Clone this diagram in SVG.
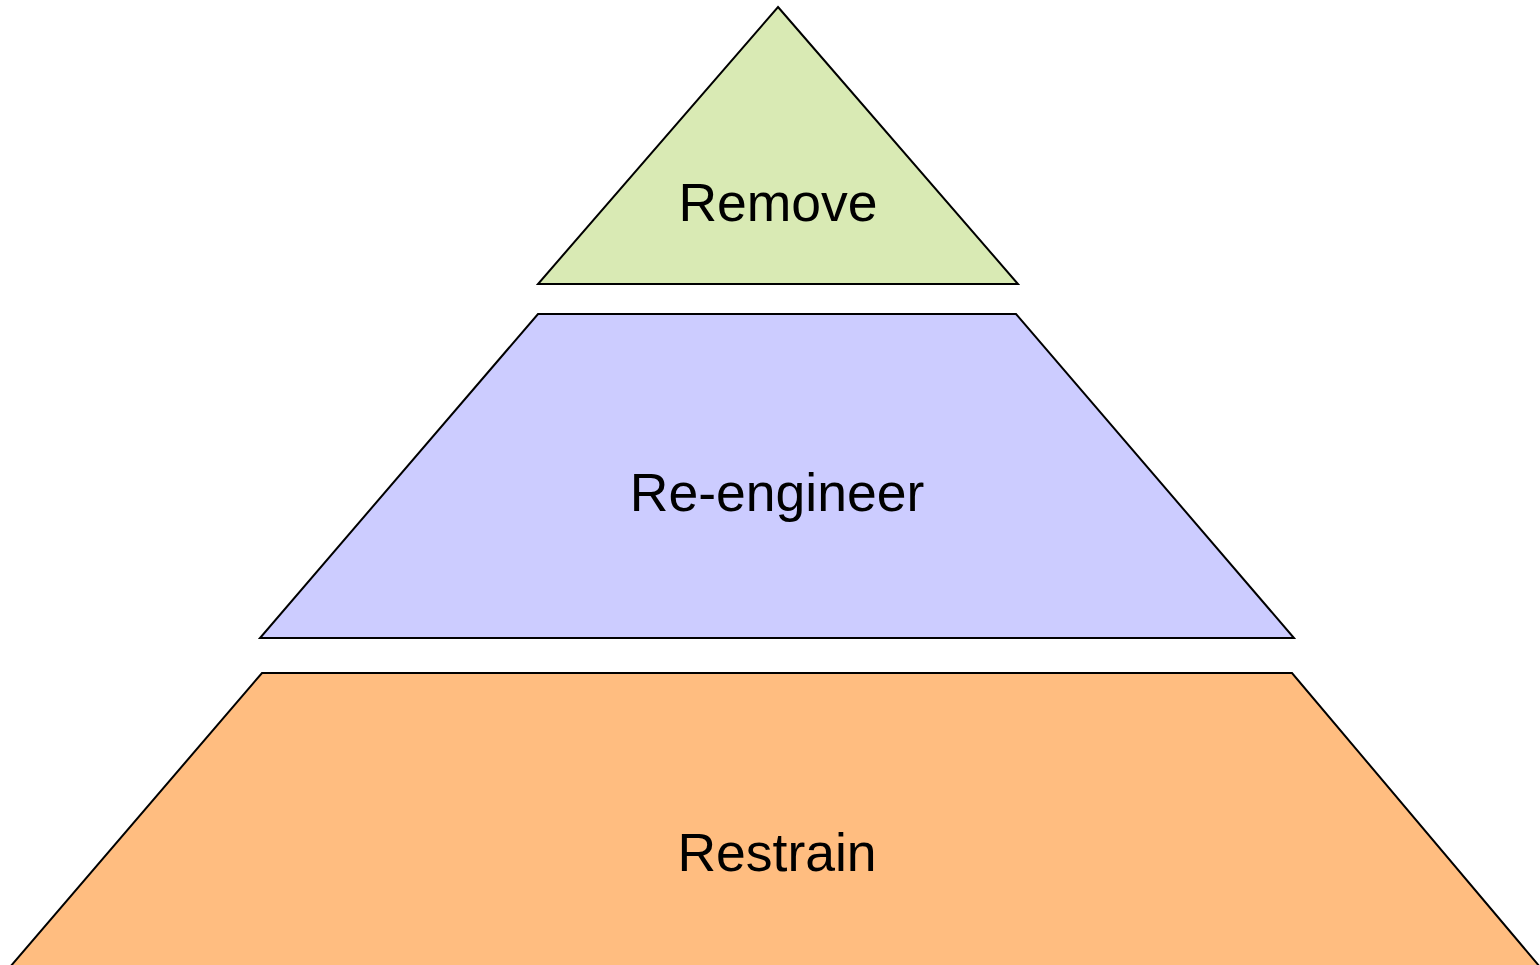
<svg xmlns="http://www.w3.org/2000/svg" width="1540" height="965" viewBox="0 0 1540 965">
<style>
.s{stroke:#000;stroke-width:2;stroke-linejoin:miter}
.t{font-family:"Liberation Sans",Arial,sans-serif;font-size:53.5px;fill:#000;text-anchor:middle}
</style>
<rect width="1540" height="965" fill="#fff"/>
<g id="remove">
<polygon class="s" fill="#d9eab4" points="778,7 1018,284 538,284"/>
<text class="t" x="778" y="221">Remove</text>
</g>
<g id="reengineer">
<polygon class="s" fill="#ccccff" points="538,314 1016,314 1294,638 260,638"/>
<text class="t" x="777" y="511">Re-engineer</text>
</g>
<g id="restrain">
<polygon class="s" fill="#ffbd80" points="262,673 1292,673 1540,967 10,967"/>
<text class="t" x="777" y="871">Restrain</text>
</g>
<g id="connectors"/>
</svg>
